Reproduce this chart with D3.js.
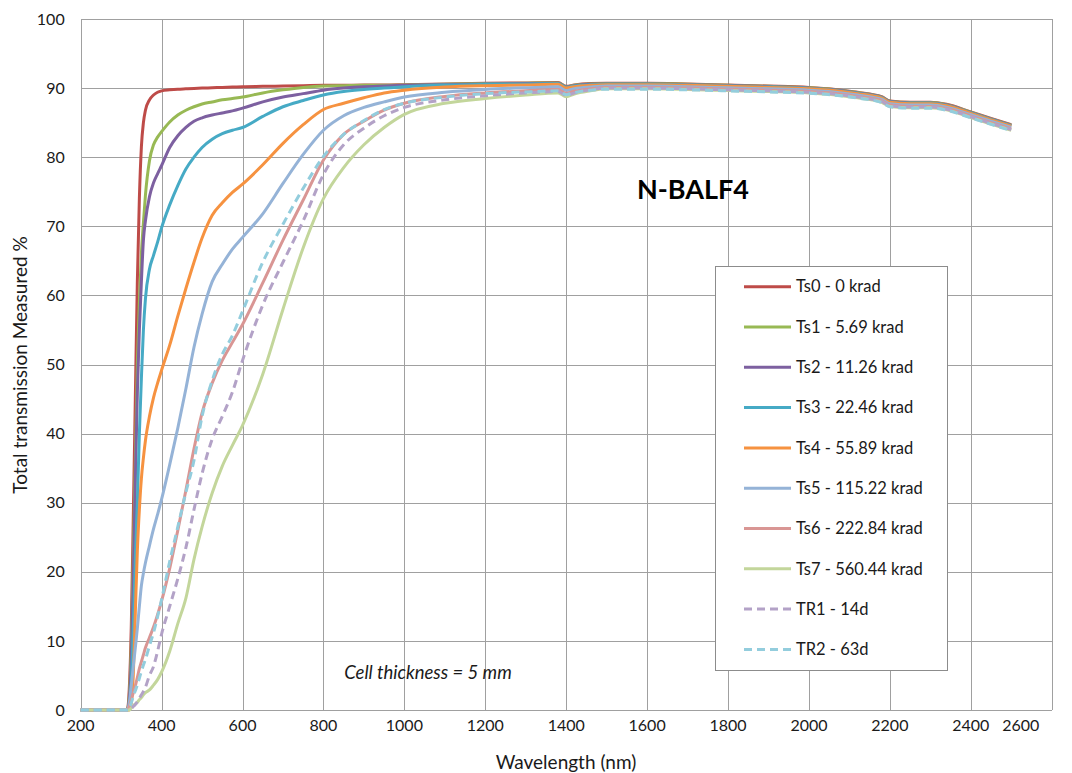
<!DOCTYPE html>
<html>
<head>
<meta charset="utf-8">
<script src="https://cdn.jsdelivr.net/npm/d3@7"></script>
<style>
  body { margin: 0; background: #fff; }
  svg { font-family: Lato, "Liberation Sans", sans-serif; }
  .grid line { stroke: #a0a0a0; stroke-width: 1; shape-rendering: crispEdges; }
  .tick-label { font-size: 16px; fill: #1a1a1a; }
</style>
</head>
<body>
<svg width="1072" height="773"></svg>
<script>
// wavelength samples (nm) shared by all series
const wavelengths = [200, 315, 320, 325, 330, 335, 340, 345, 350, 355,
  360, 370, 380, 390, 400, 420, 440, 460, 480, 500,
  525, 550, 575, 600, 650, 700, 750, 800, 850, 900,
  950, 1000, 1100, 1200, 1300, 1380, 1400, 1420, 1460, 1500,
  1600, 1700, 1800, 1900, 2000, 2060, 2120, 2180, 2200, 2250,
  2300, 2340, 2400, 2450, 2500];

// transmission (%) per series
const ts0 = [0, 0, 3, 12, 28, 45, 62, 74, 81.5, 85,
  86.8, 88.3, 89.0, 89.4, 89.6, 89.75, 89.85, 89.9, 89.95, 90.0,
  90.05, 90.1, 90.15, 90.2, 90.25, 90.3, 90.35, 90.4, 90.4, 90.45,
  90.45, 90.5, 90.6, 90.7, 90.75, 90.8, 90.25, 90.45, 90.65, 90.7,
  90.7, 90.6, 90.45, 90.3, 90.1, 89.85, 89.4, 88.75, 88.15, 87.95,
  87.95, 87.65, 86.55, 85.6, 84.7];
const ts1 = [0, 0, 2, 9, 22, 36, 50, 59, 66, 70.5,
  74.5, 79.5, 81.8, 82.9, 83.7, 85.1, 86.1, 86.8, 87.3, 87.7,
  88.0, 88.3, 88.5, 88.7, 89.3, 89.75, 90.1, 90.3, 90.35, 90.4,
  90.4, 90.45, 90.55, 90.65, 90.7, 90.75, 90.2, 90.4, 90.6, 90.65,
  90.65, 90.55, 90.4, 90.25, 90.05, 89.8, 89.35, 88.7, 88.1, 87.9,
  87.9, 87.6, 86.5, 85.55, 84.65];
const ts2 = [0, 0, 1.5, 7, 19, 33, 46, 55, 62, 68,
  70.8, 74.3, 76.3, 77.6, 78.8, 81.4, 83.1, 84.3, 85.2, 85.7,
  86.1, 86.4, 86.7, 87.1, 88.0, 88.7, 89.2, 89.7, 90.0, 90.2,
  90.3, 90.4, 90.5, 90.6, 90.65, 90.7, 90.15, 90.35, 90.55, 90.6,
  90.6, 90.5, 90.35, 90.2, 90.0, 89.75, 89.3, 88.65, 88.05, 87.85,
  87.85, 87.55, 86.45, 85.5, 84.6];
const ts3 = [0, 0, 0.5, 4, 12, 22, 30, 40, 48, 55,
  59.5, 63.8, 65.8, 67.7, 69.8, 73.1, 75.9, 78.3, 80.0, 81.4,
  82.6, 83.4, 83.9, 84.3, 85.9, 87.3, 88.2, 89.0, 89.5, 89.8,
  90.0, 90.2, 90.45, 90.55, 90.6, 90.65, 90.1, 90.3, 90.5, 90.55,
  90.55, 90.45, 90.3, 90.15, 89.95, 89.7, 89.25, 88.6, 88.0, 87.8,
  87.8, 87.5, 86.4, 85.45, 84.55];
const ts4 = [0, 0, 0, 1, 5, 14, 23, 29, 33.5, 36.5,
  39, 42.5, 45.2, 47.3, 49.2, 52.8, 57, 61, 64.8, 68.3,
  71.6, 73.4, 74.9, 76.1, 78.9, 82.0, 84.7, 86.9, 87.8, 88.6,
  89.3, 89.7, 90.15, 90.35, 90.45, 90.55, 90.0, 90.2, 90.4, 90.5,
  90.5, 90.4, 90.25, 90.1, 89.9, 89.65, 89.2, 88.55, 87.95, 87.75,
  87.75, 87.45, 86.35, 85.4, 84.5];
const ts5 = [0, 0, 1, 3.5, 6.3, 9, 11.8, 15, 18, 19.8,
  21.3, 23.8, 26.2, 28.3, 30.5, 35.5, 40.8, 46.5, 52.5, 57.3,
  62, 64.5, 66.7, 68.4, 71.8, 76.2, 80.4, 83.9, 86.0, 87.2,
  88.0, 88.7, 89.4, 89.8, 90.05, 90.2, 89.65, 89.9, 90.15, 90.3,
  90.3, 90.2, 90.05, 89.9, 89.7, 89.45, 89.0, 88.35, 87.75, 87.55,
  87.55, 87.25, 86.15, 85.2, 84.3];
const ts6 = [0, 0, 0.5, 1.5, 2.5, 3.5, 4.7, 6, 7, 8,
  9, 10.5, 12, 13.8, 15.8, 20.5, 26, 31.8, 37.8, 43,
  47.3, 50.6, 53.2, 55.8, 61.8, 68, 73.8, 79.6, 83.3, 85.2,
  86.8, 87.8, 88.8, 89.3, 89.6, 89.8, 89.25, 89.55, 89.9, 90.1,
  90.1, 90.0, 89.85, 89.7, 89.5, 89.25, 88.8, 88.15, 87.55, 87.35,
  87.35, 87.05, 85.95, 85.0, 84.1];
const ts7 = [0, 0, 0, 0.3, 0.6, 0.9, 1.1, 1.5, 1.8, 2.2,
  2.5, 2.9, 3.6, 4.4, 5.5, 8.5, 12.5, 16.2, 21.8, 26.5,
  31.4, 35.3, 38.3, 41.2, 48.6, 58, 66.9, 74, 78.5, 81.8,
  84.3, 86.2, 87.8, 88.5, 89.0, 89.3, 88.75, 89.15, 89.6, 89.9,
  89.9, 89.8, 89.65, 89.5, 89.3, 89.05, 88.6, 87.95, 87.35, 87.15,
  87.15, 86.85, 85.75, 84.8, 83.9];
const tr1 = [0, 0, 0, 0.2, 0.5, 0.8, 1.2, 1.7, 2.2, 2.7,
  3.3, 5, 6.3, 8.5, 11, 15, 19, 23.5, 29, 34.2,
  39.2, 42.5, 46, 50.6, 58.6, 64.8, 70.8, 77.5, 81.8, 84.2,
  86, 87.2, 88.3, 88.9, 89.3, 89.5, 88.95, 89.3, 89.75, 90.0,
  90.0, 89.9, 89.75, 89.6, 89.4, 89.15, 88.7, 88.05, 87.45, 87.25,
  87.25, 86.95, 85.85, 84.9, 84.0];
const tr2 = [0, 0, 0.3, 1, 2, 2.8, 3.6, 4.6, 5.6, 6.5,
  7.3, 9.3, 11.2, 13.5, 16, 21.5, 26.5, 31.5, 36.1, 42.5,
  47.7, 51.5, 54.2, 57.7, 64.8, 70.3, 75.5, 80.1, 83.3, 85.3,
  86.9, 87.8, 88.7, 89.2, 89.45, 89.6, 89.05, 89.35, 89.7, 89.85,
  89.85, 89.75, 89.6, 89.45, 89.25, 89.0, 88.55, 87.9, 87.3, 87.1,
  87.1, 86.8, 85.7, 84.75, 83.85];

const seriesNames = ["Ts0 - 0 krad", "Ts1 - 5.69 krad", "Ts2 - 11.26 krad", "Ts3 - 22.46 krad",
  "Ts4 - 55.89 krad", "Ts5 - 115.22 krad", "Ts6 - 222.84 krad", "Ts7 - 560.44 krad",
  "TR1 - 14d", "TR2 - 63d"];
const seriesValues = [ts0, ts1, ts2, ts3, ts4, ts5, ts6, ts7, tr1, tr2];
const seriesColors = ["#BE4B48", "#98B954", "#7D60A0", "#46AAC5", "#F69240",
  "#95B3D7", "#D99694", "#C3D69B", "#B3A2C7", "#93CDDD"];
const seriesDashed = [false, false, false, false, false, false, false, false, true, true];

const xTicks = [200, 400, 600, 800, 1000, 1200, 1400, 1600, 1800, 2000, 2200, 2400, 2600];
const yTicks = [0, 10, 20, 30, 40, 50, 60, 70, 80, 90, 100];

const svg = d3.select("svg");
const plot = {left: 80.7, right: 1051.7, top: 19, bottom: 710};

const x = d3.scaleLinear().domain([200, 2600]).range([plot.left, plot.right]);
const y = d3.scaleLinear().domain([0, 100]).range([plot.bottom, plot.top]);

// gridlines (also form the plot frame)
const grid = svg.append("g").attr("class", "grid");
grid.selectAll(".vx").data(xTicks).enter().append("line")
  .attr("x1", d => Math.round(x(d)) + 0.5).attr("x2", d => Math.round(x(d)) + 0.5)
  .attr("y1", plot.top).attr("y2", plot.bottom);
grid.selectAll(".hy").data(yTicks).enter().append("line")
  .attr("x1", plot.left).attr("x2", plot.right)
  .attr("y1", d => Math.round(y(d)) + 0.5).attr("y2", d => Math.round(y(d)) + 0.5);

// tick labels
svg.append("g").selectAll("text").data(yTicks).enter().append("text")
  .attr("class", "tick-label")
  .attr("x", plot.left - 16).attr("y", d => y(d)).attr("dy", "0.35em")
  .attr("text-anchor", "end").text(d => d);
svg.append("g").selectAll("text").data(xTicks).enter().append("text")
  .attr("class", "tick-label")
  .attr("x", (d, i) => i === xTicks.length - 1 ? x(d) - 31 : x(d))
  .attr("y", plot.bottom + 15).attr("dy", "0.35em")
  .attr("text-anchor", "middle").text(d => d);

// axis titles
svg.append("text").attr("x", 566).attr("y", 762).attr("dy", "0.35em")
  .attr("text-anchor", "middle").style("font-size", "19px").attr("fill", "#1a1a1a")
  .text("Wavelength (nm)");
svg.append("text").attr("transform", "translate(20,365) rotate(-90)").attr("dy", "0.35em")
  .attr("text-anchor", "middle").style("font-size", "19px").attr("fill", "#1a1a1a")
  .text("Total transmission Measured %");

// series lines
const line = d3.line()
  .x((d, i) => x(wavelengths[i]))
  .y(d => y(d))
  .curve(d3.curveMonotoneX);

svg.append("g").selectAll("path").data(seriesValues).enter().append("path")
  .attr("d", d => line(d))
  .attr("fill", "none")
  .attr("stroke", (d, i) => seriesColors[i])
  .attr("stroke-width", 3)
  .attr("stroke-linejoin", "round")
  .attr("stroke-dasharray", (d, i) => seriesDashed[i] ? "8,5" : null);

// annotations
svg.append("text").attr("x", 693).attr("y", 190).attr("dy", "0.35em")
  .attr("text-anchor", "middle").style("font-size", "27px").style("font-weight", "bold")
  .attr("fill", "#000").text("N-BALF4");
svg.append("text").attr("x", 428).attr("y", 673).attr("dy", "0.35em")
  .attr("text-anchor", "middle").style("font-size", "18.5px").style("font-style", "italic")
  .attr("fill", "#1a1a1a").text("Cell thickness = 5 mm");

// legend
const legend = svg.append("g");
legend.append("rect").attr("x", 715.5).attr("y", 266.5).attr("width", 232).attr("height", 404)
  .attr("fill", "#fff").attr("stroke", "#8c8c8c");
const items = legend.selectAll("g.item").data(seriesNames).enter().append("g")
  .attr("transform", (d, i) => "translate(0," + (286.7 + i * 40.3) + ")");
items.append("line").attr("x1", 744).attr("x2", 791).attr("y1", 0).attr("y2", 0)
  .attr("stroke", (d, i) => seriesColors[i]).attr("stroke-width", 3)
  .attr("stroke-dasharray", (d, i) => seriesDashed[i] ? "8,5" : null);
items.append("text").attr("x", 796).attr("y", 0).attr("dy", "0.35em")
  .style("font-size", "16.5px").attr("fill", "#1a1a1a").text(d => d);
</script>
</body>
</html>
